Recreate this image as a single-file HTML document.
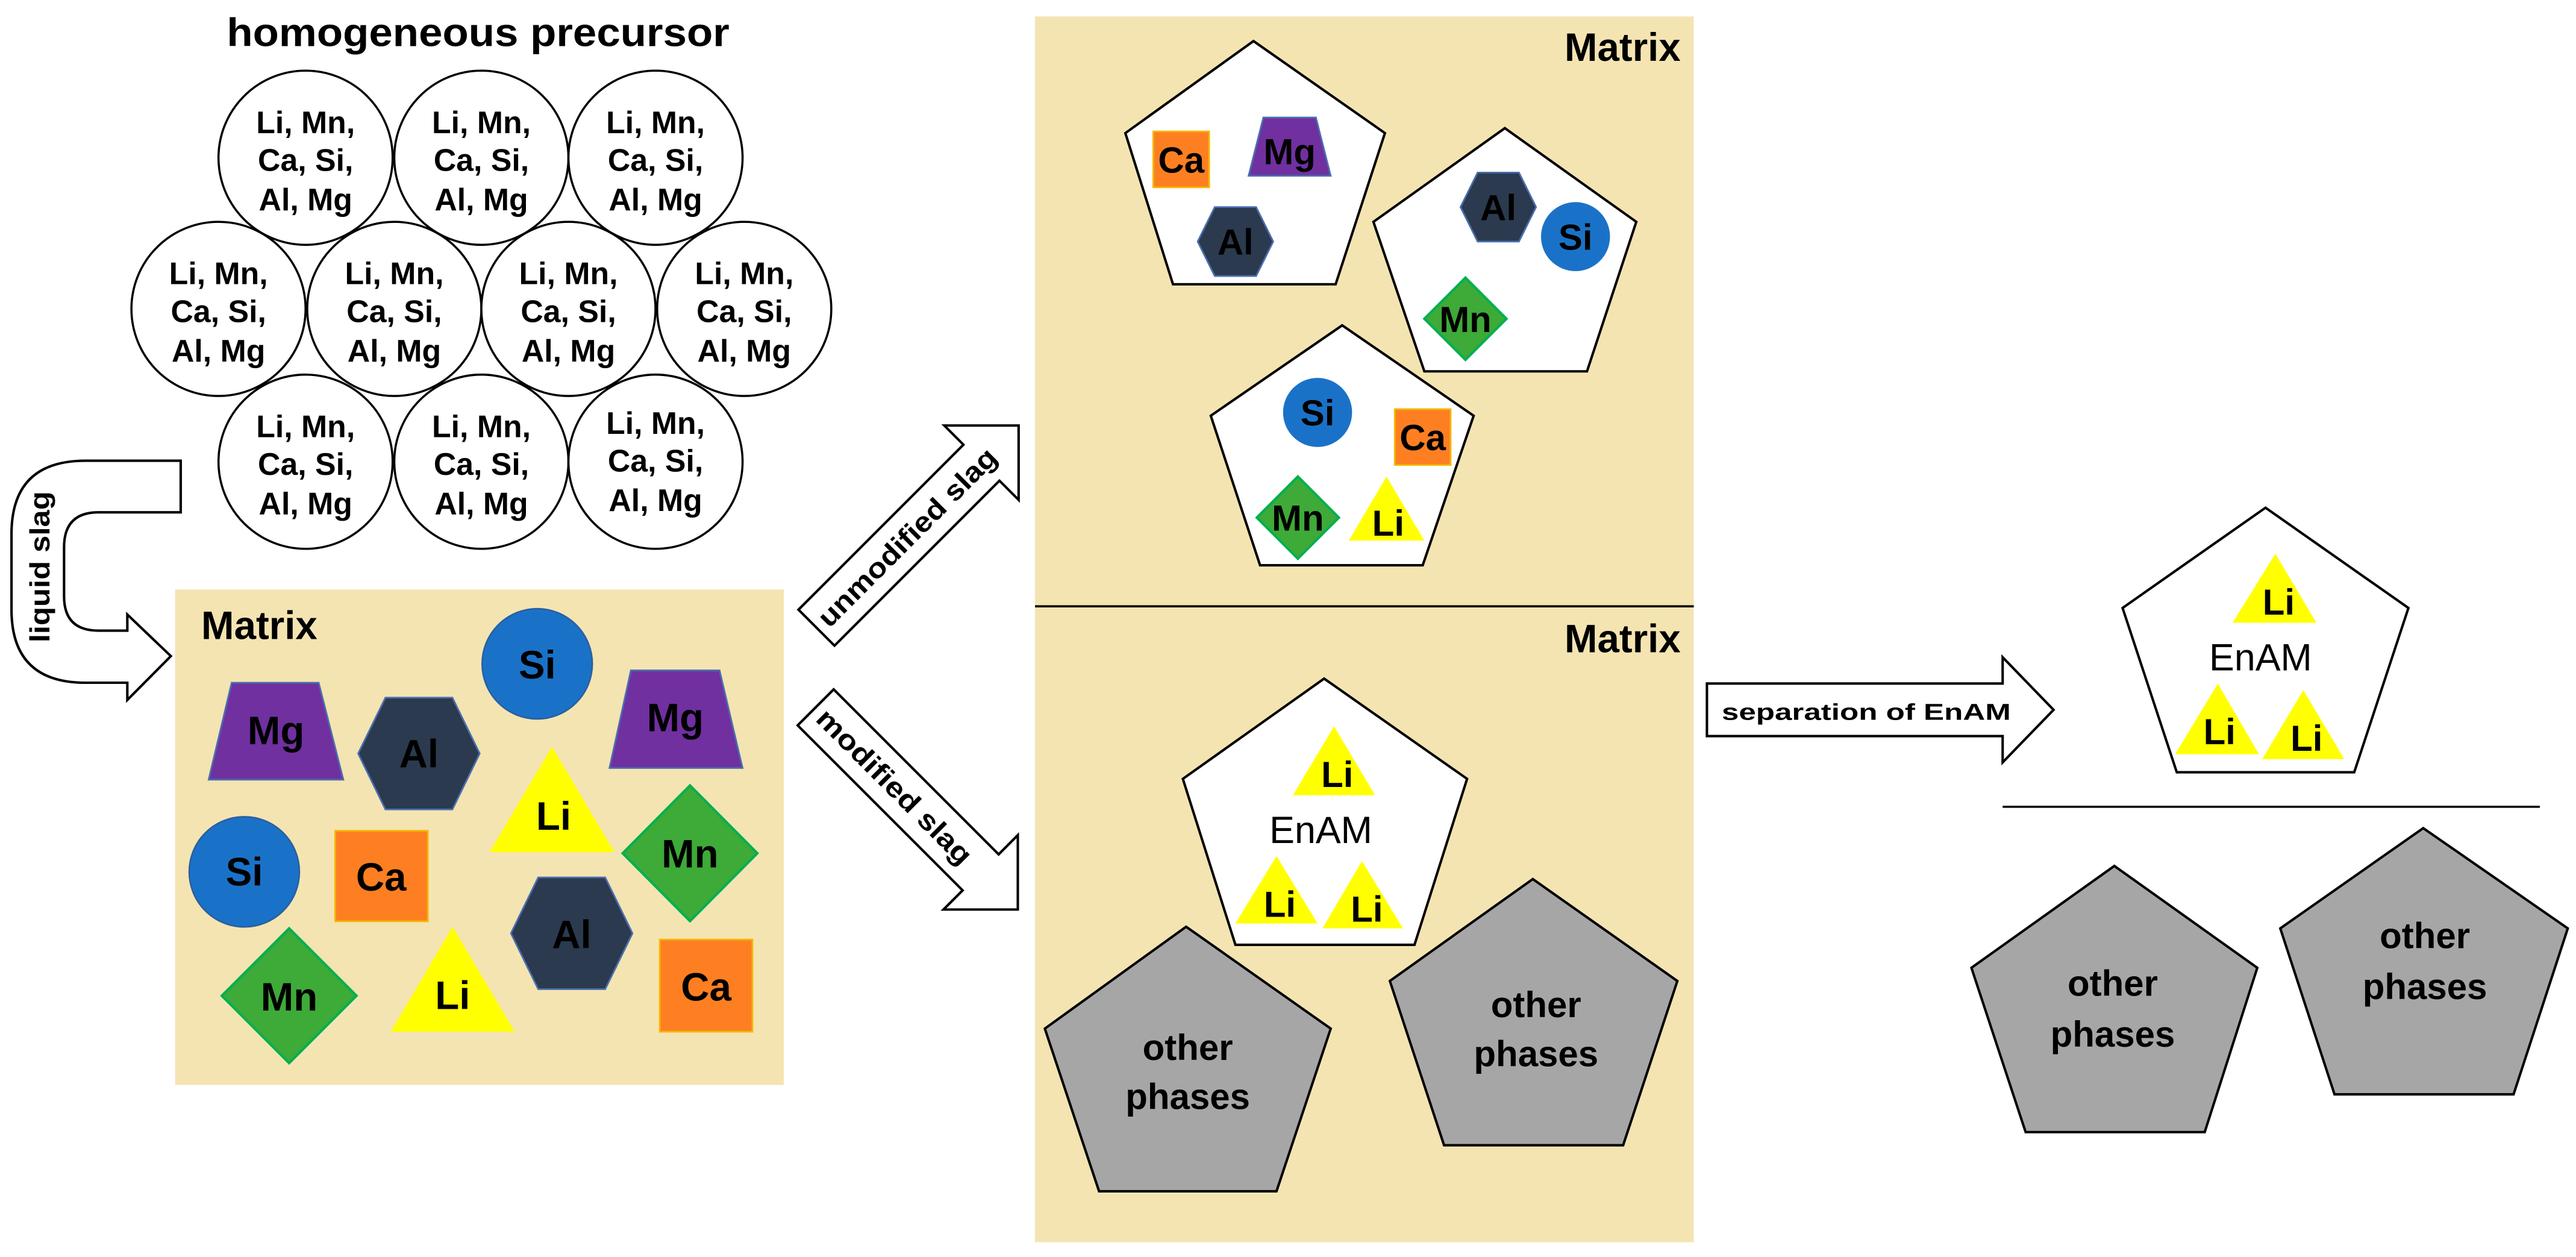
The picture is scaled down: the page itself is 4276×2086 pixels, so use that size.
<!DOCTYPE html>
<html><head><meta charset="utf-8"><style>
html,body{margin:0;padding:0;background:#fff;}
svg{display:block;}
text{font-family:"Liberation Sans",Arial,sans-serif;}
.b{font-weight:bold;}
</style></head><body>
<svg width="4276" height="2086" viewBox="0 0 1568 765" preserveAspectRatio="none" xmlns="http://www.w3.org/2000/svg">
<rect x="0" y="0" width="1568" height="765" fill="#fff"/>
<text x="291" y="28" class="b" font-size="24" text-anchor="middle" textLength="306" lengthAdjust="spacingAndGlyphs">homogeneous precursor</text>
<g fill="#fff" stroke="#000" stroke-width="1.3">
<circle cx="186" cy="96" r="53"/><circle cx="293" cy="96" r="53"/><circle cx="399" cy="96" r="53"/>
<circle cx="133" cy="188" r="53"/><circle cx="240" cy="188" r="53"/><circle cx="346" cy="188" r="53"/><circle cx="453" cy="188" r="53"/>
<circle cx="186" cy="281" r="53"/><circle cx="293" cy="281" r="53"/><circle cx="399" cy="281" r="53"/>
</g>
<g class="b" font-size="19" text-anchor="middle">
<text x="186" y="81">Li, Mn,</text><text x="186" y="104">Ca, Si,</text><text x="186" y="128">Al, Mg</text>
<text x="293" y="81">Li, Mn,</text><text x="293" y="104">Ca, Si,</text><text x="293" y="128">Al, Mg</text>
<text x="399" y="81">Li, Mn,</text><text x="399" y="104">Ca, Si,</text><text x="399" y="128">Al, Mg</text>
<text x="133" y="173">Li, Mn,</text><text x="133" y="196">Ca, Si,</text><text x="133" y="220">Al, Mg</text>
<text x="240" y="173">Li, Mn,</text><text x="240" y="196">Ca, Si,</text><text x="240" y="220">Al, Mg</text>
<text x="346" y="173">Li, Mn,</text><text x="346" y="196">Ca, Si,</text><text x="346" y="220">Al, Mg</text>
<text x="453" y="173">Li, Mn,</text><text x="453" y="196">Ca, Si,</text><text x="453" y="220">Al, Mg</text>
<text x="186" y="266">Li, Mn,</text><text x="186" y="289">Ca, Si,</text><text x="186" y="313">Al, Mg</text>
<text x="293" y="266">Li, Mn,</text><text x="293" y="289">Ca, Si,</text><text x="293" y="313">Al, Mg</text>
<text x="399" y="264">Li, Mn,</text><text x="399" y="287">Ca, Si,</text><text x="399" y="311">Al, Mg</text>
</g>
<path d="M110,280.4 L52,280.4 Q7,280.4 7,325 L7,371 Q7,415.5 52,415.5 L77.5,415.5 L77.5,426 L104,399.3 L77.5,374 L77.5,383.8 L60,383.8 Q39,383.8 39,363 L39,333 Q39,311.8 60,311.8 L110,311.8 Z" fill="#fff" stroke="#000" stroke-width="1.5"/>
<text x="0" y="0" class="b" font-size="17" text-anchor="middle" textLength="92" lengthAdjust="spacingAndGlyphs" transform="translate(30,345) rotate(-90)">liquid slag</text>
<rect x="106.6" y="358.8" width="370.5" height="301.5" fill="#f4e4b2"/>
<text x="122.5" y="389" class="b" font-size="24">Matrix</text>
<g stroke-width="1">
<polygon points="141,415.5 194,415.5 209,474.5 127,474.5" fill="#7030a0" stroke="#4a6fb0"/>
<polygon points="384,408 438,408 452,467.4 371,467.4" fill="#7030a0" stroke="#4a6fb0"/>
<polygon points="218,458.6 234.6,424.6 275.4,424.6 292,458.6 275.4,492.6 234.6,492.6" fill="#2b3a4e" stroke="#4a6fb0"/>
<polygon points="311,568 327.6,534 368.4,534 385,568 368.4,602 327.6,602" fill="#2b3a4e" stroke="#4a6fb0"/>
<circle cx="327" cy="404" r="33.5" fill="#1a72c8" stroke="#2a5fa0"/>
<circle cx="148.7" cy="530.6" r="33.5" fill="#1a72c8" stroke="#2a5fa0"/>
<polygon points="336,454.5 374,518.6 298,518.6" fill="#ffff00"/>
<polygon points="275.5,564 313.3,627.9 237.8,627.9" fill="#ffff00"/>
<polygon points="379,519.3 420,478 461,519.3 420,560.6" fill="#3eaa38" stroke="#00b050" stroke-width="1.5"/>
<polygon points="135,606 176,565 217,606 176,647" fill="#3eaa38" stroke="#00b050" stroke-width="1.5"/>
<rect x="204" y="505.6" width="56.4" height="55.1" fill="#fd7f22" stroke="#f5b800"/>
<rect x="401.6" y="571.8" width="56.4" height="56.1" fill="#fd7f22" stroke="#f5b800"/>
</g>
<g class="b" font-size="24" text-anchor="middle">
<text x="168" y="453">Mg</text><text x="411" y="445">Mg</text>
<text x="255" y="467">Al</text><text x="348" y="577">Al</text>
<text x="327" y="413">Si</text><text x="148.7" y="539">Si</text>
<text x="337" y="505">Li</text><text x="275.5" y="614">Li</text>
<text x="420" y="528">Mn</text><text x="176" y="615">Mn</text>
<text x="232" y="542">Ca</text><text x="429.8" y="609">Ca</text>
</g>
<g transform="translate(497,382) rotate(-45)">
<polygon points="0,-15.5 142,-15.5 142,-32 174,0 142,32 142,15.5 0,15.5" fill="#fff" stroke="#000" stroke-width="1.5"/>
<text x="78" y="6" class="b" font-size="17" text-anchor="middle" textLength="146" lengthAdjust="spacingAndGlyphs">unmodified slag</text>
</g>
<g transform="translate(496.5,430.5) rotate(45)">
<polygon points="0,-15.5 142,-15.5 142,-32 174,0 142,32 142,15.5 0,15.5" fill="#fff" stroke="#000" stroke-width="1.5"/>
<text x="68" y="6" class="b" font-size="17" text-anchor="middle" textLength="126" lengthAdjust="spacingAndGlyphs">modified slag</text>
</g>
<rect x="630" y="10" width="401" height="746" fill="#f4e4b2"/>
<line x1="630" y1="369" x2="1031" y2="369" stroke="#000" stroke-width="1.3"/>
<text x="1023" y="37" class="b" font-size="24" text-anchor="end">Matrix</text>
<text x="1023" y="397" class="b" font-size="24" text-anchor="end">Matrix</text>
<g fill="#fff" stroke="#000" stroke-width="1.5">
<polygon points="763,25 843,81 813,173 714,173 685,81"/>
<polygon points="916,78 996,135 966,226 867,226 836,135"/>
<polygon points="817,198 897,253 866,344 767,344 737,253"/>
<polygon points="806,413 893,474 861,575 752,575 720,474"/>
</g>
<g fill="#a6a6a6" stroke="#000" stroke-width="1.5">
<polygon points="722,564 810,626 777,725 669,725 636,626"/>
<polygon points="933,535 1021,597 988,697 879,697 846,597"/>
</g>
<g stroke-width="1">
<rect x="702" y="80" width="34" height="34" fill="#fd7f22" stroke="#f5b800"/>
<polygon points="769,71.5 801,71.5 810,107 760,107" fill="#7030a0" stroke="#4a6fb0"/>
<polygon points="729,147 739.4,126 764.6,126 775,147 764.6,168 739.4,168" fill="#2b3a4e" stroke="#4a6fb0"/>
<polygon points="889,126 899.4,105 924.6,105 935,126 924.6,147 899.4,147" fill="#2b3a4e" stroke="#4a6fb0"/>
<circle cx="959" cy="144" r="21" fill="#1a72c8"/>
<polygon points="867,194 892,169 917,194 892,219" fill="#3eaa38" stroke="#00b050" stroke-width="1.5"/>
<circle cx="802" cy="251" r="21" fill="#1a72c8"/>
<rect x="849" y="249" width="34" height="34" fill="#fd7f22" stroke="#f5b800"/>
<polygon points="765,315 790,290 815,315 790,340" fill="#3eaa38" stroke="#00b050" stroke-width="1.5"/>
<polygon points="844,290 867,329 821,329" fill="#ffff00"/>
<polygon points="812,442 837,484 787,484" fill="#ffff00"/>
<polygon points="777,521 802,562 752,562" fill="#ffff00"/>
<polygon points="829,524 854,565 805,565" fill="#ffff00"/>
</g>
<g class="b" font-size="22" text-anchor="middle">
<text x="719" y="105">Ca</text><text x="785" y="100">Mg</text><text x="752" y="155">Al</text>
<text x="912" y="134">Al</text><text x="959" y="152">Si</text><text x="892" y="202">Mn</text>
<text x="802" y="259">Si</text><text x="866" y="274">Ca</text><text x="790" y="323">Mn</text><text x="845" y="326">Li</text>
<text x="814" y="479">Li</text><text x="779" y="558">Li</text><text x="832" y="561">Li</text>
</g>
<text x="804" y="513" font-size="23" text-anchor="middle">EnAM</text>
<g class="b" font-size="22" text-anchor="middle">
<text x="723" y="645">other</text><text x="723" y="675">phases</text>
<text x="935" y="619">other</text><text x="935" y="649">phases</text>
</g>
<polygon points="1039,416 1219,416 1219,400 1250,432 1219,464 1219,448 1039,448" fill="#fff" stroke="#000" stroke-width="1.5"/>
<text x="1048" y="438" class="b" font-size="14" textLength="176" lengthAdjust="spacingAndGlyphs">separation of EnAM</text>
<polygon points="1379,309 1466,370 1433,470 1325,470 1292,370" fill="#fff" stroke="#000" stroke-width="1.5"/>
<polygon points="1385,337 1410,379 1359,379" fill="#ffff00"/>
<polygon points="1350,416 1375,459 1324,459" fill="#ffff00"/>
<polygon points="1402,420 1427,462 1377,462" fill="#ffff00"/>
<g class="b" font-size="22" text-anchor="middle">
<text x="1387" y="374">Li</text><text x="1351" y="453">Li</text><text x="1404" y="457">Li</text>
</g>
<text x="1376" y="408" font-size="23" text-anchor="middle">EnAM</text>
<line x1="1219" y1="491" x2="1546" y2="491" stroke="#000" stroke-width="1.3"/>
<g fill="#a6a6a6" stroke="#000" stroke-width="1.5">
<polygon points="1287,527 1374,589 1342,689 1233,689 1200,589"/>
<polygon points="1475,504 1563,565 1530,666 1421,666 1388,565"/>
</g>
<g class="b" font-size="22" text-anchor="middle">
<text x="1286" y="606">other</text><text x="1286" y="637">phases</text>
<text x="1476" y="577">other</text><text x="1476" y="608">phases</text>
</g>
</svg>
</body></html>
